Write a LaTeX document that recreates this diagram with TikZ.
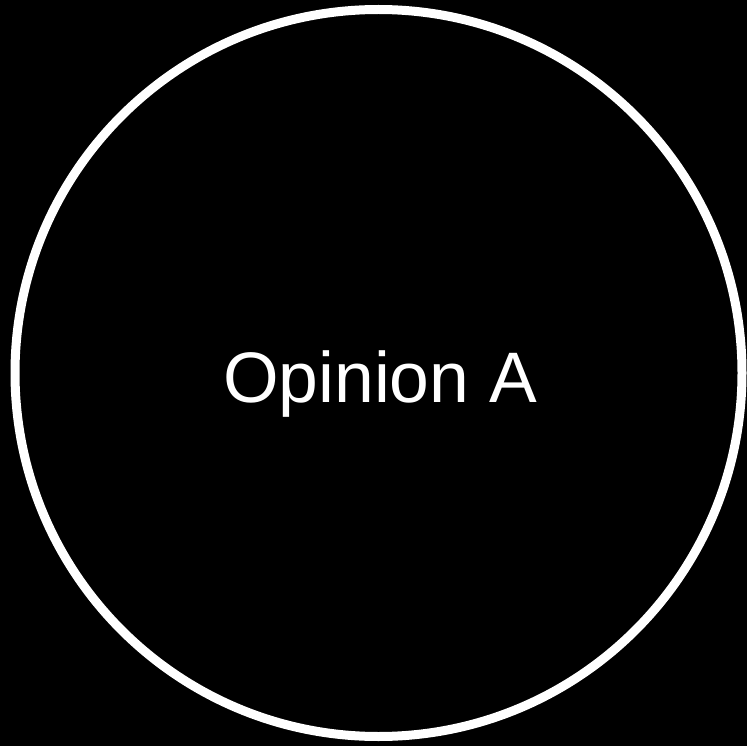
\documentclass[tikz,border=0pt]{standalone}
\usepackage{fontspec}
\setmainfont{Liberation Sans}
\begin{document}
\begin{tikzpicture}[x=1pt,y=-1pt,
  ring/.style={draw=white,line width=9pt},
  label/.style={text=white,font=\fontsize{71.5}{80}\selectfont,inner sep=0pt,anchor=base}]
\fill[black] (0,0) rectangle (747,746);
\useasboundingbox (0,0) rectangle (747,746);
\node[ring,circle,minimum size=727pt,inner sep=0pt] (c) at (378.5,373) {};
\node[label] (t) at (380,402) {Opinion A};
\end{tikzpicture}
\end{document}
